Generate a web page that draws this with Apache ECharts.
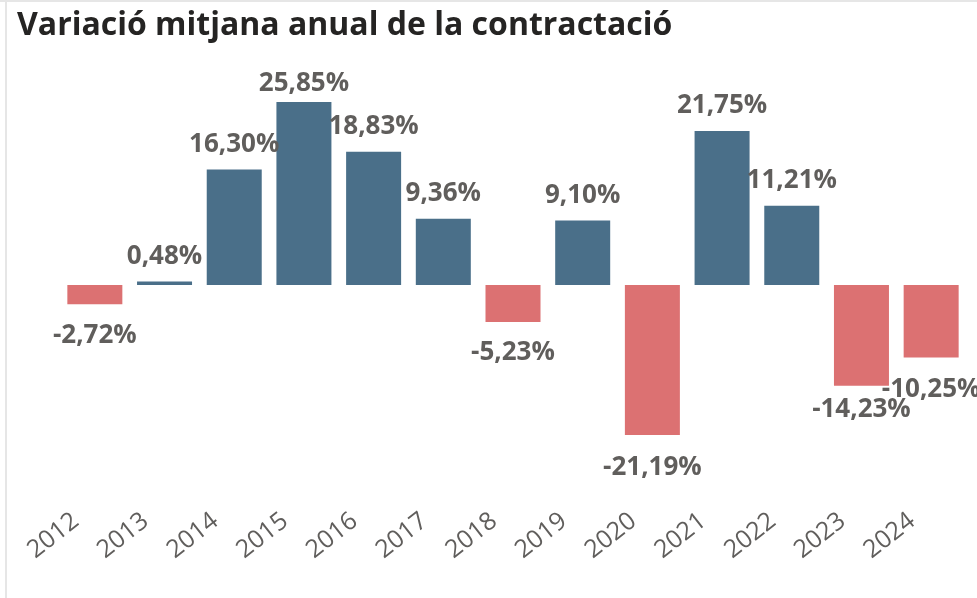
<!DOCTYPE html>
<html>
<head>
<meta charset="utf-8">
<script src="https://cdn.jsdelivr.net/npm/echarts@6/dist/echarts.min.js"></script>
<style>
html,body{margin:0;padding:0;background:#fff;}
#chart{width:977px;height:598px;}
</style>
</head>
<body>
<div id="chart"></div>
<script>
const years = ['2012','2013','2014','2015','2016','2017','2018','2019','2020','2021','2022','2023','2024'];
const values = [-2.72, 0.48, 16.30, 25.85, 18.83, 9.36, -5.23, 9.10, -21.19, 21.75, 11.21, -14.23, -10.25];
const labelTexts = ['-2,72%','0,48%','16,30%','25,85%','18,83%','9,36%','-5,23%','9,10%','-21,19%','21,75%','11,21%','-14,23%','-10,25%'];
const labelDistances = [18, 12, 12, 5, 12, 12, 18, 12, 20, 12, 12, 11, 19];

const POS = '#4a6f89', NEG = '#dc7172';
const chart = echarts.init(document.getElementById('chart'), null, {renderer:'canvas'});
const data = values.map((v, i) => ({
  value: v,
  itemStyle: {color: v >= 0 ? POS : NEG},
  label: {position: v >= 0 ? 'top' : 'bottom', distance: labelDistances[i]}
}));
chart.setOption({
  animation: false,
  title: {
    text: 'Variació mitjana anual de la contractació',
    left: 12, top: 5,
    textStyle: {fontFamily: 'Open Sans', fontWeight: 'bold', fontSize: 32, color: '#252423'}
  },
  grid: {left: 60, right: 11, top: 72.6, bottom: 100.6, containLabel: false},
  xAxis: {
    type: 'category', data: years,
    axisLine: {show: false, onZero: false}, axisTick: {show: false},
    axisLabel: {rotate: 38, color: '#605e5c', fontFamily: 'Open Sans', fontSize: 25, margin: 6, interval: 0, padding: [0, 24, 0, 0]}
  },
  yAxis: {type: 'value', min: -30, max: 30, show: false, splitLine: {show: false}},
  series: [{
    type: 'bar', data: data, barWidth: 55,
    label: {
      show: true, fontFamily: 'Open Sans', fontWeight: 'bold', fontSize: 26, color: '#605e5c',
      formatter: p => labelTexts[p.dataIndex]
    }
  }],
  graphic: [
    {type: 'rect', shape: {x: 0, y: 0, width: 977, height: 2}, style: {fill: '#e6e6e6'}, silent: true},
    {type: 'rect', shape: {x: 5, y: 0, width: 2, height: 598}, style: {fill: '#e6e6e6'}, silent: true}
  ]
});
</script>
</body>
</html>
